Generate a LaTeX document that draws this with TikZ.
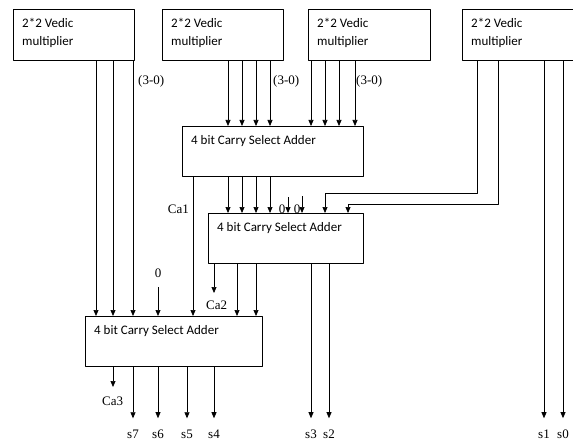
\documentclass[tikz,border=0pt]{standalone}
\usepackage{fontspec}
\setmainfont{Liberation Serif}
\newfontfamily\boxfont{Carlito}
\usetikzlibrary{arrows.meta}

\tikzset{
  blk/.style={draw, rectangle, anchor=north west, inner sep=0pt, line width=0.8pt},
  blktext/.style={anchor=north west, inner sep=0pt, xshift=9pt, yshift=-9pt, align=left,
    font=\boxfont\fontsize{13}{18}\selectfont},
  wire/.style={line width=0.7pt},
  arr/.style={wire, -{Triangle[length=6pt,width=5pt]}},
  sig/.style={font=\fontsize{13}{15}\selectfont, inner sep=0pt, anchor=base},
}

\begin{document}
\begin{tikzpicture}[x=1pt, y=-1pt, line join=round]
	\clip (0,0) rectangle (573,441);
	
	% 2*2 multiplier blocks
	\node[blk, minimum width=121pt, minimum height=51pt, label={[blktext]north west:2*2 Vedic\\multiplier}] (m1) at (13,9) {};
	\node[blk, minimum width=121pt, minimum height=51pt, label={[blktext]north west:2*2 Vedic\\multiplier}] (m2) at (162,9) {};
	\node[blk, minimum width=122pt, minimum height=51pt, label={[blktext]north west:2*2 Vedic\\multiplier}] (m3) at (308,9) {};
	\node[blk, minimum width=130pt, minimum height=51pt, label={[blktext]north west:2*2 Vedic\\multiplier}] (m4) at (462,9) {};
	
	% carry select adders
	\node[blk, minimum width=181pt, minimum height=50pt, label={[blktext]north west:4 bit Carry Select Adder}] (a) at (182,126) {};
	\node[blk, minimum width=155pt, minimum height=50pt, label={[blktext]north west:4 bit Carry Select Adder}] (b) at (208,213) {};
	\node[blk, minimum width=177pt, minimum height=50pt, label={[blktext]north west:4 bit Carry Select Adder}] (c) at (85,316) {};
	
	% bus labels
	\node[sig, anchor=base west] (r1) at (138,85) {(3-0)};
	\node[sig, anchor=base west] (r2) at (273,85) {(3-0)};
	\node[sig, anchor=base west] (r3) at (356,85) {(3-0)};
	
	% multipliers into the first adder
	\foreach \x in {228,242,256,270}
		\draw[arr] (m2.south -| \x,0) -- (a.north -| \x,0);
	\foreach \x in {311,325,339,355}
		\draw[arr] (m3.south -| \x,0) -- (a.north -| \x,0);
	
	% first adder into the second one
	\foreach \x in {228,242,256,270}
		\draw[arr] (a.south -| \x,0) -- (b.north -| \x,0);
	\node[sig] (z1) at (282,213) {0};
	\node[sig] (z2) at (297,213) {0};
	\coordinate (z1in) at (288,197);
	\coordinate (z2in) at (302,196);
	\draw[arr] (z1in) -- (b.north -| z1in);
	\draw[arr] (z2in) -- (b.north -| z2in);
	\draw[arr] (m4.south -| 477,0) -- (477,193) -| (b.north -| 325,0);
	\draw[arr] (m4.south -| 498,0) -- (498,204) -| (b.north -| 348,0);
	
	% carry Ca1
	\draw[arr] (a.south -| 193,0) -- (c.north -| 193,0);
	\node[sig, anchor=base east] (ca1) at (189,213) {Ca1};
	
	% inputs of the last adder
	\foreach \x in {96,113,133}
		\draw[arr] (m1.south -| \x,0) -- (c.north -| \x,0);
	\node[sig] (z3) at (158,277) {0};
	\coordinate (z3in) at (158,287);
	\draw[arr] (z3in) -- (c.north -| z3in);
	\foreach \x in {237,256}
		\draw[arr] (b.south -| \x,0) -- (c.north -| \x,0);
	
	% carry Ca2
	\node[sig, anchor=base west] (ca2) at (206,309) {Ca2};
	\draw[arr] (b.south -| 214,0) -- (214,293);
	
	% outputs
	\node[sig, anchor=base west] (ca3) at (102,405) {Ca3};
	\draw[arr] (c.south -| 113,0) -- (113,387);
	\node[sig] (s7) at (133,438) {s7};
	\node[sig] (s6) at (158,438) {s6};
	\node[sig] (s5) at (187,438) {s5};
	\node[sig] (s4) at (214,438) {s4};
	\node[sig] (s3) at (311,438) {s3};
	\node[sig] (s2) at (329,438) {s2};
	\node[sig] (s1) at (544,438) {s1};
	\node[sig] (s0) at (563,438) {s0};
	\foreach \s in {s7,s6,s5,s4}
		\draw[arr] (c.south -| \s) -- ([yshift=11pt]\s.north);
	\foreach \s in {s3,s2}
		\draw[arr] (b.south -| \s) -- ([yshift=11pt]\s.north);
	\foreach \s in {s1,s0}
		\draw[arr] (m4.south -| \s) -- ([yshift=11pt]\s.north);
\end{tikzpicture}
\end{document}
